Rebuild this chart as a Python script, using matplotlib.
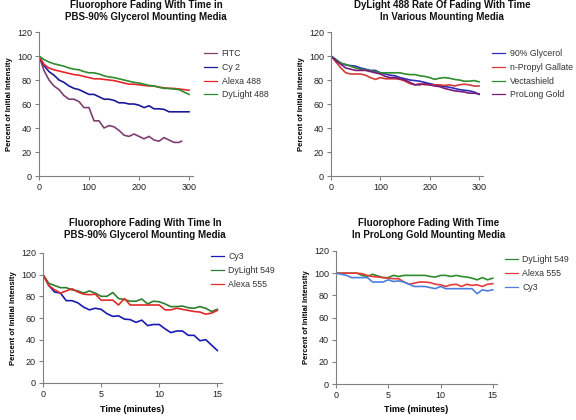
import matplotlib
matplotlib.use("Agg")
import matplotlib.pyplot as plt
import numpy as np

plt.rcParams['font.family'] = ['Liberation Sans', 'DejaVu Sans']

# ---------------- Panel 1 data ----------------
t1 = [0, 10, 20, 30, 40, 50, 60, 70, 80, 90, 100, 110, 120, 130, 140, 150, 160, 170, 180, 190,
      200, 210, 220, 230, 240, 250, 260, 270, 280, 290, 300]
fitc_t = [0, 10, 20, 30, 40, 50, 60, 70, 80, 90, 100, 110, 120, 130, 140, 150, 160, 170, 180, 190,
          200, 210, 220, 230, 240, 250, 260, 270, 280, 285]
fitc = [100, 88, 80, 75, 72, 67, 64, 64, 62, 57, 57, 46, 46, 40, 42, 41, 38, 34, 33, 35,
        33, 31, 33, 30, 29, 32, 30, 28, 28, 29]
cy2 = [100, 92, 87, 84, 80, 78, 75, 73, 72, 70, 68, 68, 66, 64, 64, 63, 61, 61, 60, 60,
       59, 57, 58.5, 56, 56, 55.5, 53.5, 53.5, 53.5, 53.5, 53.5]
alexa488 = [100, 93, 90, 88.5, 87.5, 86.5, 85.5, 84.5, 84, 83, 82, 81, 81, 80.5, 80, 79.5, 78.5, 77.5,
            76.5, 76.5, 76, 75.5, 75, 75, 74, 73.5, 73, 73, 72.5, 72, 71.5]
dylight488 = [100, 97, 95, 93.5, 92.5, 91.5, 90, 89, 88.5, 87, 86, 86, 85, 83.5, 82.5, 82, 81, 80,
              79, 78, 77.5, 76.5, 75.5, 75, 74, 73, 73, 72.5, 72, 70, 68]

# ---------------- Panel 2 data ----------------
glycerol = [100, 97, 94, 92.5, 92, 91.5, 90, 89, 88, 88, 86, 85, 84, 83.5, 82, 81, 80, 79.5, 79, 78,
            77, 76, 75, 74.5, 74, 73, 72, 71.5, 71, 70, 68]
npg = [100, 95, 90, 86, 85, 85, 85, 84, 82, 80.5, 82, 81, 81, 81, 80.5, 79, 77, 76, 77, 76,
       76, 76, 76, 75.5, 76, 75, 76, 76.5, 76, 75, 75]
vecta = [100, 97, 94, 93, 91.5, 90, 89, 88.5, 87.5, 87, 86, 86, 86, 86, 86, 85, 84.5, 84.5, 83.5, 83,
         82, 80.5, 81.5, 82, 81.5, 80.5, 80, 79, 79, 79.5, 78.5]
prolong = [100, 96, 93, 90, 89, 88, 88, 88, 87, 86, 85, 83, 82, 82, 81, 80, 78, 76, 76, 77,
           76, 75, 74.5, 73, 72, 71, 70.5, 70, 69, 69, 68.5]

# ---------------- Panel 3 data ----------------
t3 = [0, 0.5, 1, 1.5, 2, 2.5, 3, 3.5, 4, 4.5, 5, 5.5, 6, 6.5, 7, 7.5, 8, 8.5, 9, 9.5,
      10, 10.5, 11, 11.5, 12, 12.5, 13, 13.5, 14, 14.5, 15]
cy3_pbs = [100, 90, 84, 83, 76, 76, 74, 70, 67.5, 69, 68, 64, 61.5, 62, 59, 58.5, 56, 58, 53, 54,
           54, 50, 46.5, 48, 48, 44, 44, 39, 40, 35, 30]
dy549_pbs = [100, 92, 90, 88, 88, 86, 85, 83, 85, 83, 80, 80, 83.5, 78, 77, 75.5, 75.5, 77.5, 73, 75.5,
             75, 73, 70.5, 70.5, 71, 69.5, 69, 70.5, 69, 66, 68]
alexa555_pbs = [100, 90, 86, 83, 85, 87, 84, 82, 81.5, 82, 76.5, 76.5, 76.5, 72, 78, 72, 72, 72, 72, 72,
                72, 67.5, 67.5, 69, 68, 67, 66, 65.5, 63.5, 64.5, 67]

# ---------------- Panel 4 data ----------------
dy549_pg = [100, 100, 100, 100, 100, 98, 97, 99, 97.5, 96, 96, 98, 97, 98, 98, 98, 98, 98, 97, 96.5,
            98, 98, 97, 98, 97, 96.5, 95.5, 94, 96, 94, 95.5]
alexa555_pg = [100, 100, 100, 100, 100, 99.5, 98, 97, 96.5, 96, 95.5, 95, 95, 92, 90, 91, 92, 92, 91.5, 90,
               89.5, 88, 89.5, 90, 88, 90, 89, 89.5, 88, 90, 90.5]
cy3_pg = [100, 99, 98, 96, 96, 96, 96, 92, 92, 92, 94, 92.5, 93, 92, 90, 88, 88, 88, 87, 86,
          88, 86, 86, 86, 86, 86, 86, 81.5, 85, 84, 85]

yticks = [0, 20, 40, 60, 80, 100, 120]

fig = plt.figure(figsize=(5.76, 4.2), dpi=100)
W, H = 576.0, 420.0

def make_ax(left, right, bottom, top, xmax, xticks):
    ax = fig.add_axes([left / W, 1 - bottom / H, (right - left) / W, (bottom - top) / H])
    ax.set_xlim(0, xmax)
    ax.set_ylim(0, 120)
    ax.set_xticks(xticks)
    ax.set_yticks(yticks)
    for s in ['top', 'right']:
        ax.spines[s].set_visible(False)
    for s in ['left', 'bottom']:
        ax.spines[s].set_color('#808080')
        ax.spines[s].set_linewidth(0.8)
    ax.tick_params(axis='both', direction='out', length=3, width=0.8, color='#808080',
                   labelsize=6.5, labelcolor='#222222', pad=2)
    ax.set_ylabel('Percent of Initial Intensity', fontsize=5.5, fontweight='bold', labelpad=3)
    return ax

def title(x, y, text):
    fig.text(x / W, 1 - y / H, text, ha='center', va='center', fontsize=7, fontweight='bold',
             linespacing=1.25, color='#111111')

def legend(ax, x, y, spacing=0.55):
    leg = ax.legend(loc='upper left', bbox_to_anchor=(x / W, 1 - y / H), bbox_transform=fig.transFigure,
                    frameon=False, fontsize=6.3, handlelength=1.5, handletextpad=0.5,
                    labelspacing=spacing, borderpad=0, borderaxespad=0, labelcolor='#333333')
    for h in leg.get_lines():
        h.set_linewidth(0.9)

lw = 1.2

# Panel 1
ax1 = make_ax(39, 193, 176, 32, 308, [0, 100, 200, 300])
ax1.plot(fitc_t, fitc, color='#7F3F6F', lw=lw, label='FITC')
ax1.plot(t1, cy2, color='#1A1A99', lw=lw, label='Cy 2')
ax1.plot(t1, alexa488, color='#E8262A', lw=lw, label='Alexa 488')
ax1.plot(t1, dylight488, color='#2E8B2E', lw=lw, label='DyLight 488')
legend(ax1, 204, 49)
title(146, 11, 'Fluorophore Fading With Time in\nPBS-90% Glycerol Mounting Media')

# Panel 2
ax2 = make_ax(331, 483, 176, 32, 308, [0, 100, 200, 300])
ax2.plot(t1, glycerol, color='#2E2EB8', lw=lw, label='90% Glycerol')
ax2.plot(t1, npg, color='#D43A3A', lw=lw, label='n-Propyl Gallate')
ax2.plot(t1, vecta, color='#2E8B2E', lw=lw, label='Vectashield')
ax2.plot(t1, prolong, color='#7A1A7A', lw=lw, label='ProLong Gold')
legend(ax2, 492, 49)
title(442, 11, 'DyLight 488 Rate Of Fading With Time\nIn Various Mounting Media')

# Panel 3
ax3 = make_ax(43, 222, 383, 253, 15.4, [0, 5, 10, 15])
ax3.plot(t3, cy3_pbs, color='#1A1AB0', lw=lw, label='Cy3')
ax3.plot(t3, dy549_pbs, color='#2E7D2E', lw=lw, label='DyLight 549')
ax3.plot(t3, alexa555_pbs, color='#E02A2A', lw=lw, label='Alexa 555')
ax3.set_xlabel('Time (minutes)', fontsize=6.5, fontweight='bold', labelpad=4)
legend(ax3, 211, 252)
title(145, 229, 'Fluorophore Fading With Time In\nPBS-90% Glycerol Mounting Media')

# Panel 4
ax4 = make_ax(336, 497, 384, 251, 15.4, [0, 5, 10, 15])
ax4.plot(t3, dy549_pg, color='#2E8B2E', lw=lw, label='DyLight 549')
ax4.plot(t3, alexa555_pg, color='#E83A3A', lw=lw, label='Alexa 555')
ax4.plot(t3, cy3_pg, color='#4A7FDC', lw=lw, label='Cy3')
ax4.set_xlabel('Time (minutes)', fontsize=6.5, fontweight='bold', labelpad=4)
legend(ax4, 505, 255)
title(429, 229, 'Fluorophore Fading With Time\nIn ProLong Gold Mounting Media')

fig.savefig('out.png', dpi=100)
